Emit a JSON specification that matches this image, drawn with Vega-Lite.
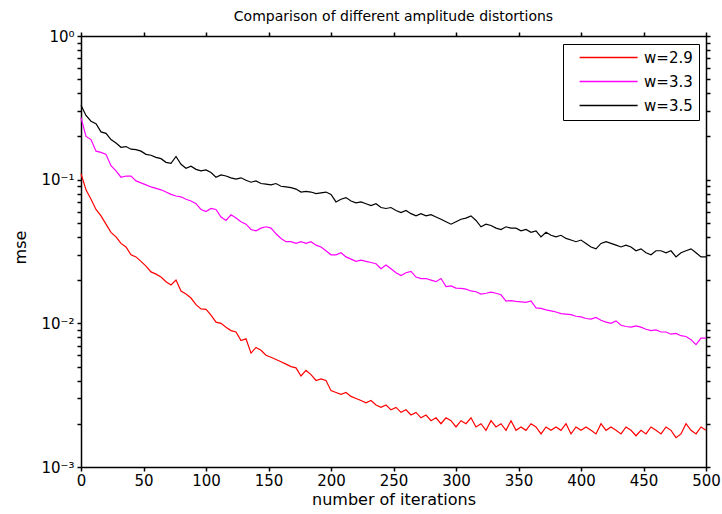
{
  "$schema": "https://vega.github.io/schema/vega-lite/v6.json",
  "width": 625,
  "height": 431,
  "autosize": {"type": "none"},
  "padding": {"left": 81, "top": 36, "right": 16, "bottom": 47},
  "background": "white",
  "title": {"text": "Comparison of different amplitude distortions", "anchor": "middle", "fontSize": 14, "font": "DejaVu Sans", "fontWeight": "normal", "color": "black", "baseline": "alphabetic", "offset": 11, "dy": 17},
  "config": {
    "font": "DejaVu Sans",
    "view": {"stroke": null},
    "axis": {"domainColor": "black", "domainWidth": 1.5, "tickColor": "black", "tickWidth": 1.5, "tickSize": 4, "ticks": true, "grid": false, "labelColor": "black", "labelFont": "DejaVu Sans", "labelFontSize": 15, "titleFont": "DejaVu Sans", "titleFontSize": 16, "titleFontWeight": "normal", "titleColor": "black", "labelOverlap": false, "labelBound": false, "labelFlush": false, "minExtent": 0},
    "legend": {"orient": "none", "legendX": 482, "legendY": 8, "strokeColor": "black", "strokeWidth": 1, "fillColor": "white", "padding": 6, "symbolType": "M-10,0H10", "symbolSize": 33.64, "symbolStrokeWidth": 1.6, "symbolOffset": 32.1, "labelOffset": 28, "labelFontSize": 15, "labelFont": "DejaVu Sans", "labelColor": "black", "rowPadding": 8, "direction": "vertical"}
  },
  "data": {"values": [
    {"i":0,"a":0.11,"b":0.27,"c":0.33},
    {"i":4,"a":0.085,"b":0.2,"c":0.28},
    {"i":8,"a":0.073,"b":0.19,"c":0.255},
    {"i":12,"a":0.062,"b":0.158,"c":0.245},
    {"i":16,"a":0.056,"b":0.155,"c":0.215},
    {"i":20,"a":0.049,"b":0.15,"c":0.21},
    {"i":24,"a":0.043,"b":0.125,"c":0.19},
    {"i":28,"a":0.04,"b":0.115,"c":0.18},
    {"i":32,"a":0.036,"b":0.104,"c":0.168},
    {"i":36,"a":0.034,"b":0.106,"c":0.17},
    {"i":40,"a":0.03,"b":0.106,"c":0.163},
    {"i":44,"a":0.029,"b":0.098,"c":0.162},
    {"i":48,"a":0.027,"b":0.095,"c":0.158},
    {"i":52,"a":0.025,"b":0.092,"c":0.15},
    {"i":56,"a":0.0228,"b":0.089,"c":0.148},
    {"i":60,"a":0.022,"b":0.087,"c":0.143},
    {"i":64,"a":0.021,"b":0.085,"c":0.14},
    {"i":68,"a":0.0195,"b":0.082,"c":0.132},
    {"i":72,"a":0.0185,"b":0.079,"c":0.13},
    {"i":76,"a":0.02,"b":0.077,"c":0.145},
    {"i":80,"a":0.0168,"b":0.076,"c":0.128},
    {"i":84,"a":0.016,"b":0.073,"c":0.12},
    {"i":88,"a":0.015,"b":0.071,"c":0.124},
    {"i":92,"a":0.0135,"b":0.068,"c":0.118},
    {"i":96,"a":0.0126,"b":0.062,"c":0.115},
    {"i":100,"a":0.0125,"b":0.06,"c":0.117},
    {"i":104,"a":0.0114,"b":0.063,"c":0.112},
    {"i":108,"a":0.0102,"b":0.062,"c":0.104},
    {"i":112,"a":0.01,"b":0.055,"c":0.108},
    {"i":116,"a":0.0094,"b":0.052,"c":0.106},
    {"i":120,"a":0.0089,"b":0.057,"c":0.103},
    {"i":124,"a":0.0087,"b":0.054,"c":0.101},
    {"i":128,"a":0.0076,"b":0.051,"c":0.103},
    {"i":132,"a":0.0078,"b":0.049,"c":0.099},
    {"i":136,"a":0.0062,"b":0.045,"c":0.096},
    {"i":140,"a":0.0068,"b":0.044,"c":0.098},
    {"i":144,"a":0.0065,"b":0.046,"c":0.094},
    {"i":148,"a":0.006,"b":0.047,"c":0.093},
    {"i":152,"a":0.0058,"b":0.046,"c":0.092},
    {"i":156,"a":0.0056,"b":0.042,"c":0.094},
    {"i":160,"a":0.0054,"b":0.039,"c":0.09},
    {"i":164,"a":0.0052,"b":0.037,"c":0.089},
    {"i":168,"a":0.005,"b":0.037,"c":0.088},
    {"i":172,"a":0.0049,"b":0.036,"c":0.086},
    {"i":176,"a":0.0043,"b":0.037,"c":0.082},
    {"i":180,"a":0.0047,"b":0.036,"c":0.083},
    {"i":184,"a":0.0044,"b":0.037,"c":0.082},
    {"i":188,"a":0.004,"b":0.035,"c":0.08},
    {"i":192,"a":0.0041,"b":0.034,"c":0.081},
    {"i":196,"a":0.004,"b":0.032,"c":0.082},
    {"i":200,"a":0.0034,"b":0.03,"c":0.079},
    {"i":204,"a":0.0033,"b":0.03,"c":0.07},
    {"i":208,"a":0.0032,"b":0.031,"c":0.073},
    {"i":212,"a":0.0033,"b":0.029,"c":0.075},
    {"i":216,"a":0.0031,"b":0.028,"c":0.071},
    {"i":220,"a":0.003,"b":0.027,"c":0.069},
    {"i":224,"a":0.0029,"b":0.0275,"c":0.07},
    {"i":228,"a":0.0028,"b":0.027,"c":0.068},
    {"i":232,"a":0.0029,"b":0.0265,"c":0.066},
    {"i":236,"a":0.0027,"b":0.026,"c":0.068},
    {"i":240,"a":0.0026,"b":0.024,"c":0.064},
    {"i":244,"a":0.0027,"b":0.0255,"c":0.063},
    {"i":248,"a":0.0025,"b":0.024,"c":0.064},
    {"i":252,"a":0.0026,"b":0.0225,"c":0.061},
    {"i":256,"a":0.0024,"b":0.0215,"c":0.059},
    {"i":260,"a":0.0025,"b":0.0225,"c":0.061},
    {"i":264,"a":0.0023,"b":0.023,"c":0.058},
    {"i":268,"a":0.0024,"b":0.021,"c":0.056},
    {"i":272,"a":0.0022,"b":0.0205,"c":0.058},
    {"i":276,"a":0.0023,"b":0.0205,"c":0.056},
    {"i":280,"a":0.0021,"b":0.02,"c":0.057},
    {"i":284,"a":0.0022,"b":0.0195,"c":0.055},
    {"i":288,"a":0.002,"b":0.0205,"c":0.053},
    {"i":292,"a":0.0022,"b":0.018,"c":0.051},
    {"i":296,"a":0.0021,"b":0.0182,"c":0.049},
    {"i":300,"a":0.0019,"b":0.0176,"c":0.051},
    {"i":304,"a":0.0021,"b":0.0175,"c":0.053},
    {"i":308,"a":0.002,"b":0.0173,"c":0.054},
    {"i":312,"a":0.0022,"b":0.0168,"c":0.056},
    {"i":316,"a":0.0019,"b":0.0166,"c":0.052},
    {"i":320,"a":0.002,"b":0.016,"c":0.047},
    {"i":324,"a":0.0018,"b":0.0162,"c":0.049},
    {"i":328,"a":0.0021,"b":0.0165,"c":0.048},
    {"i":332,"a":0.0019,"b":0.0162,"c":0.046},
    {"i":336,"a":0.002,"b":0.0158,"c":0.045},
    {"i":340,"a":0.0018,"b":0.0143,"c":0.047},
    {"i":344,"a":0.0021,"b":0.0144,"c":0.046},
    {"i":348,"a":0.0018,"b":0.0142,"c":0.046},
    {"i":352,"a":0.0019,"b":0.0141,"c":0.044},
    {"i":356,"a":0.0018,"b":0.014,"c":0.045},
    {"i":360,"a":0.002,"b":0.0143,"c":0.043},
    {"i":364,"a":0.0019,"b":0.0128,"c":0.044},
    {"i":368,"a":0.0017,"b":0.0127,"c":0.04},
    {"i":372,"a":0.0019,"b":0.0124,"c":0.043},
    {"i":376,"a":0.0018,"b":0.0122,"c":0.041},
    {"i":380,"a":0.0019,"b":0.012,"c":0.04},
    {"i":384,"a":0.0018,"b":0.0117,"c":0.041},
    {"i":388,"a":0.002,"b":0.0116,"c":0.039},
    {"i":392,"a":0.0017,"b":0.0115,"c":0.038},
    {"i":396,"a":0.0019,"b":0.0112,"c":0.037},
    {"i":400,"a":0.0018,"b":0.0111,"c":0.038},
    {"i":404,"a":0.0019,"b":0.0108,"c":0.036},
    {"i":408,"a":0.0018,"b":0.0107,"c":0.034},
    {"i":412,"a":0.0017,"b":0.011,"c":0.033},
    {"i":416,"a":0.002,"b":0.0105,"c":0.036},
    {"i":420,"a":0.0018,"b":0.0102,"c":0.037},
    {"i":424,"a":0.0019,"b":0.01,"c":0.036},
    {"i":428,"a":0.0018,"b":0.0104,"c":0.035},
    {"i":432,"a":0.0017,"b":0.0097,"c":0.034},
    {"i":436,"a":0.0019,"b":0.0095,"c":0.035},
    {"i":440,"a":0.0018,"b":0.0094,"c":0.034},
    {"i":444,"a":0.00165,"b":0.0096,"c":0.032},
    {"i":448,"a":0.0018,"b":0.0094,"c":0.033},
    {"i":452,"a":0.0017,"b":0.0091,"c":0.031},
    {"i":456,"a":0.0019,"b":0.0089,"c":0.03},
    {"i":460,"a":0.0018,"b":0.009,"c":0.032},
    {"i":464,"a":0.0017,"b":0.0087,"c":0.032},
    {"i":468,"a":0.0019,"b":0.0087,"c":0.031},
    {"i":472,"a":0.0018,"b":0.0084,"c":0.032},
    {"i":476,"a":0.0016,"b":0.0085,"c":0.029},
    {"i":480,"a":0.0017,"b":0.0082,"c":0.031},
    {"i":484,"a":0.002,"b":0.0081,"c":0.032},
    {"i":488,"a":0.0018,"b":0.0077,"c":0.033},
    {"i":492,"a":0.0017,"b":0.0071,"c":0.031},
    {"i":496,"a":0.0019,"b":0.0079,"c":0.029},
    {"i":500,"a":0.0018,"b":0.0079,"c":0.029}
  ]},
  "transform": [{"fold": ["a", "b", "c"], "as": ["s", "v"]}],
  "layer": [
    {
      "mark": {"type": "line", "strokeWidth": 1.2},
      "encoding": {
        "x": {"field": "i", "type": "quantitative", "scale": {"domain": [0, 500], "nice": false, "zero": false},
          "axis": {"orient": "bottom", "values": [0,50,100,150,200,250,300,350,400,450,500], "title": "number of iterations", "labelPadding": 2, "titleBaseline": "alphabetic", "titleY": 37,
            "encode": {"ticks": {"update": {"y2": {"value": -4}}}}}},
        "y": {"field": "v", "type": "quantitative", "scale": {"type": "log", "domain": [0.001, 1], "nice": false},
          "axis": {"orient": "left", "values": [0.001,0.002,0.003,0.004,0.005,0.006,0.007,0.008,0.009,0.01,0.02,0.03,0.04,0.05,0.06,0.07,0.08,0.09,0.1,0.2,0.3,0.4,0.5,0.6,0.7,0.8,0.9,1],
            "labelExpr": "datum.value == 1 ? '10⁰' : datum.value == 0.1 ? '10⁻¹' : datum.value == 0.01 ? '10⁻²' : datum.value == 0.001 ? '10⁻³' : ''",
            "labelPadding": 3, "labelBaseline": "middle", "title": "mse", "titleBaseline": "alphabetic", "titleAlign": "center", "titleX": -56, "titleY": 211, "titleAngle": -90,
            "encode": {"ticks": {"update": {"x2": {"value": 4}}}}}},
        "color": {"field": "s", "type": "nominal", "scale": {"domain": ["a", "b", "c"], "range": ["#ff0000", "#ff00ff", "#000000"]},
          "legend": {"title": null, "labelExpr": "datum.label == 'a' ? 'w=2.9' : datum.label == 'b' ? 'w=3.3' : 'w=3.5'"}}
      }
    },
    {
      "mark": {"type": "line", "strokeOpacity": 0},
      "encoding": {
        "x": {"field": "i", "type": "quantitative", "axis": {"orient": "top", "values": [0,50,100,150,200,250,300,350,400,450,500], "labels": false, "title": null,
          "encode": {"ticks": {"update": {"y2": {"value": 4}}}}}},
        "y": {"field": "v", "type": "quantitative", "scale": {"type": "log"}, "axis": {"orient": "right", "values": [0.001,0.002,0.003,0.004,0.005,0.006,0.007,0.008,0.009,0.01,0.02,0.03,0.04,0.05,0.06,0.07,0.08,0.09,0.1,0.2,0.3,0.4,0.5,0.6,0.7,0.8,0.9,1], "labels": false, "title": null,
          "encode": {"ticks": {"update": {"x2": {"value": -4}}}}}},
        "detail": {"field": "s", "type": "nominal"}
      }
    }
  ],
  "resolve": {"axis": {"x": "independent", "y": "independent"}}
}
